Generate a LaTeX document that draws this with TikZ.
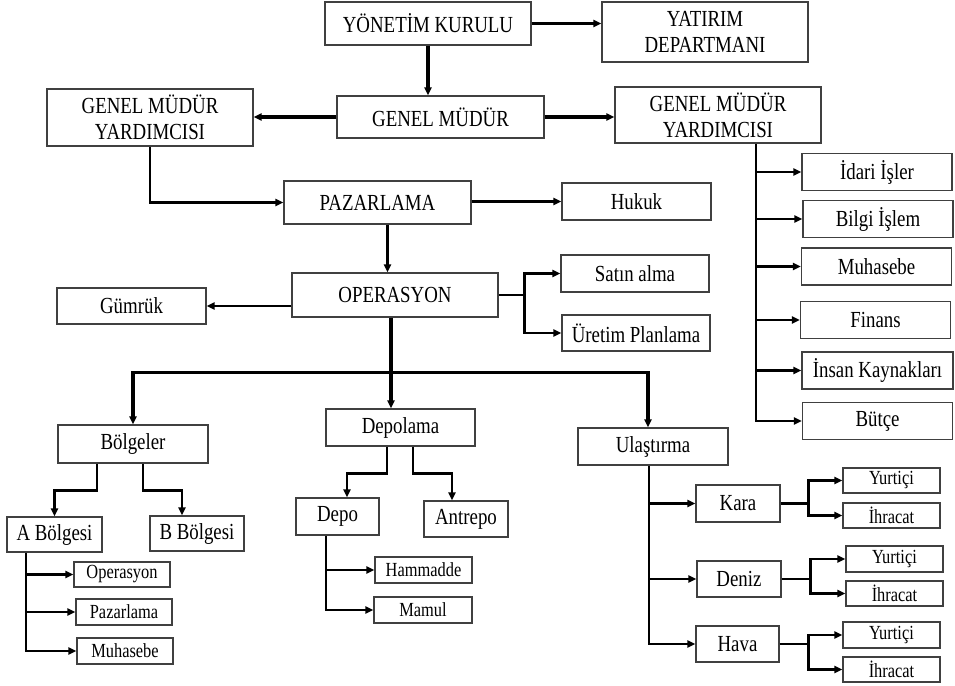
\documentclass[tikz,border=0pt]{standalone}
\usepackage{fontspec}
\setmainfont{Liberation Serif}[FakeStretch=0.82]
\usetikzlibrary{arrows.meta,positioning,calc}
\tikzset{%
   bx/.style={
      draw=black!75,
      line width=1.1pt,
      inner sep=1pt,
      align=center,
      font=\fontsize{23}{26}\selectfont
   },
   sm/.style={
      bx,
      font=\fontsize{20}{23}\selectfont
   },
   wh/.style 2 args={
      minimum width=#1pt,
      minimum height=#2pt
   },
   ar/.style={
      -{Triangle[length=8pt,width=7pt]},
      line width=2.5pt
   },
   tar/.style={
      ar,
      line width=3.2pt
   },
   ln/.style={
      line width=2.5pt
   },
}

\begin{document}
\begin{tikzpicture}[x=1pt, y=-1pt]
      \useasboundingbox (0,0) rectangle (955,685);
      % top
      \node[bx, wh={206}{43}] (yk) at (428,23.5) {YÖNETİM KURULU};
      \node[bx, wh={206}{60}] (yd) at (705,32) {YATIRIM\\DEPARTMANI};
      \node[bx, wh={207}{42}] (gm) at (440.5,117) {GENEL MÜDÜR};
      \node[bx, wh={206}{57}] (gmy1) at (150,117.5) {GENEL MÜDÜR\\YARDIMCISI};
      \node[bx, wh={206}{56}] (gmy2) at (718,115) {GENEL MÜDÜR\\YARDIMCISI};
      \node[bx, wh={187}{43}] (paz) at (377.5,202.5) {PAZARLAMA};
      \node[bx, wh={149}{37}] (huk) at (636.5,201.5) {Hukuk};
      % right column
      \node[bx, wh={150}{37}] (idari) at (877,172) {İdari İşler};
      \node[bx, wh={150}{37}] (bilgi) at (878,219) {Bilgi İşlem};
      \node[bx, wh={150}{37}] (muh) at (876.5,266.5) {Muhasebe};
      \node[bx, wh={150}{37}] (fin) at (875.5,320) {Finans};
      \node[bx, wh={151}{37}] (ik) at (877.5,370.5) {İnsan Kaynakları};
      \node[bx, wh={150}{37}] (butce) at (877.5,421) {Bütçe};
      % operasyon
      \node[bx, wh={206}{44}] (ops) at (395,295) {OPERASYON};
      \node[bx, wh={149}{36}] (gum) at (131.5,306) {Gümrük};
      \node[bx, wh={148}{37}] (satin) at (635,273.5) {Satın alma};
      \node[bx, wh={148}{36}] (uretim) at (636,333) {Üretim Planlama};
      \node[bx, wh={150}{38}] (bolge) at (133,444) {Bölgeler};
      \node[bx, wh={149}{37}] (depolama) at (400.5,427.5) {Depolama};
      \node[bx, wh={150}{37}] (ulas) at (653,446.5) {Ulaştırma};
      % lower level
      \node[bx, wh={95}{35}] (abol) at (54.5,534.5) {A Bölgesi};
      \node[bx, wh={94}{35}] (bbol) at (197,533.5) {B Bölgesi};
      \node[bx, wh={83}{37}] (depo) at (337.5,516.5) {Depo};
      \node[bx, wh={84}{36}] (antrepo) at (466,519) {Antrepo};
      \node[sm, wh={96}{25}] (aop) at (122,574.5) {Operasyon};
      \node[sm, wh={96}{26}] (apaz) at (124,612) {Pazarlama};
      \node[sm, wh={96}{26}] (amuh) at (125,651) {Muhasebe};
      \node[sm, wh={97}{26}] (ham) at (423.5,570) {Hammadde};
      \node[sm, wh={98}{26}] (mamul) at (423,610) {Mamul};
      \node[bx, wh={84}{37}] (kara) at (738,503.5) {Kara};
      \node[bx, wh={84}{36}] (deniz) at (739,579) {Deniz};
      \node[bx, wh={83}{36}] (hava) at (737.5,644) {Hava};
      \node[sm, wh={97}{25}] (yurt1) at (891.5,480.5) {Yurtiçi};
      \node[sm, wh={97}{25}] (ihr1) at (891.5,515.5) {İhracat};
      \node[sm, wh={97}{26}] (yurt2) at (894.5,559) {Yurtiçi};
      \node[sm, wh={97}{25}] (ihr2) at (894.5,593.5) {İhracat};
      \node[sm, wh={97}{26}] (yurt3) at (891.5,635) {Yurtiçi};
      \node[sm, wh={97}{25}] (ihr3) at (891.5,669.5) {İhracat};
      % connectors, top
      \draw[tar] (yk.south) -- (yk.south |- gm.north);
      \draw[tar] (yk.east) -- (yk.east -| yd.west);
      \draw[tar] (gm.west) -- (gm.west -| gmy1.east);
      \draw[tar] (gm.east) -- (gm.east -| gmy2.west);
      \draw[ar] (gmy1.south) |- (paz.west);
      \draw[tar] ([xshift=10pt]paz.south) -- ([xshift=10pt]paz.south |- ops.north);
      \draw[ar] (paz.east |- huk) -- (huk.west);
      % right column
      \coordinate (sp) at ([xshift=38pt]gmy2.south);
      \draw[ar] (sp) |- (butce.west);
      \draw[ar] (sp |- idari) -- (idari.west);
      \draw[ar] (sp |- bilgi) -- (bilgi.west);
      \draw[ar] (sp |- muh) -- (muh.west);
      \draw[ar] (sp |- fin) -- (fin.west);
      \draw[ar] (sp |- ik) -- (ik.west);
      % operasyon
      \draw[ar] (ops.west |- gum) -- (gum.east);
      \coordinate (os) at ([xshift=26pt]ops.east);
      \draw[ln] (ops.east) -- (os);
      \draw[ar] (os) |- (satin.west);
      \draw[ar] (os) |- (uretim.west);
      \coordinate (ob) at ($(ops.south)+(-4,55)$);
      \draw[tar] ([xshift=-4pt]ops.south) -- ([xshift=-4pt]ops.south |- depolama.north);
      \draw[tar] (ob) -| (bolge.north);
      \draw[tar] (ob) -| ([xshift=-5pt]ulas.north);
      % bolgeler
      \draw[ar] ([xshift=-36pt]bolge.south) -- ++(0,27) -| (abol.north);
      \draw[ar] ([xshift=10pt]bolge.south) -- ++(0,27) -| ([xshift=-15pt]bbol.north);
      \coordinate (as) at ([xshift=-28.5pt]abol.south);
      \draw[ar] (as) |- (amuh.west);
      \draw[ar] (as |- aop) -- (aop.west);
      \draw[ar] (as |- apaz) -- (apaz.west);
      % depolama
      \draw[ar] ([xshift=-13.5pt]depolama.south) -- ++(0,27) -| ([xshift=9.5pt]depo.north);
      \draw[ar] ([xshift=12.5pt]depolama.south) -- ++(0,27) -| ([xshift=-14pt]antrepo.north);
      \coordinate (ds) at ([xshift=-11.5pt]depo.south);
      \draw[ar] (ds) |- (mamul.west);
      \draw[ar] (ds |- ham) -- (ham.west);
      % ulastirma
      \coordinate (us) at ([xshift=-4pt]ulas.south);
      \draw[ar] (us) |- (hava.west);
      \draw[ar] (us |- kara) -- (kara.west);
      \draw[ar] (us |- deniz) -- (deniz.west);
      \coordinate (ks) at ([xshift=28pt]kara.east);
      \draw[ln] (kara.east) -- (ks);
      \draw[ar] (ks) |- (yurt1.west);
      \draw[ar] (ks) |- (ihr1.west);
      \coordinate (ns) at ([xshift=29pt]deniz.east);
      \draw[ln] (deniz.east) -- (ns);
      \draw[ar] (ns) |- (yurt2.west);
      \draw[ar] (ns) |- (ihr2.west);
      \coordinate (hs) at ([xshift=29pt]hava.east);
      \draw[ln] (hava.east) -- (hs);
      \draw[ar] (hs) |- (yurt3.west);
      \draw[ar] (hs) |- (ihr3.west);
   \end{tikzpicture}
\end{document}
